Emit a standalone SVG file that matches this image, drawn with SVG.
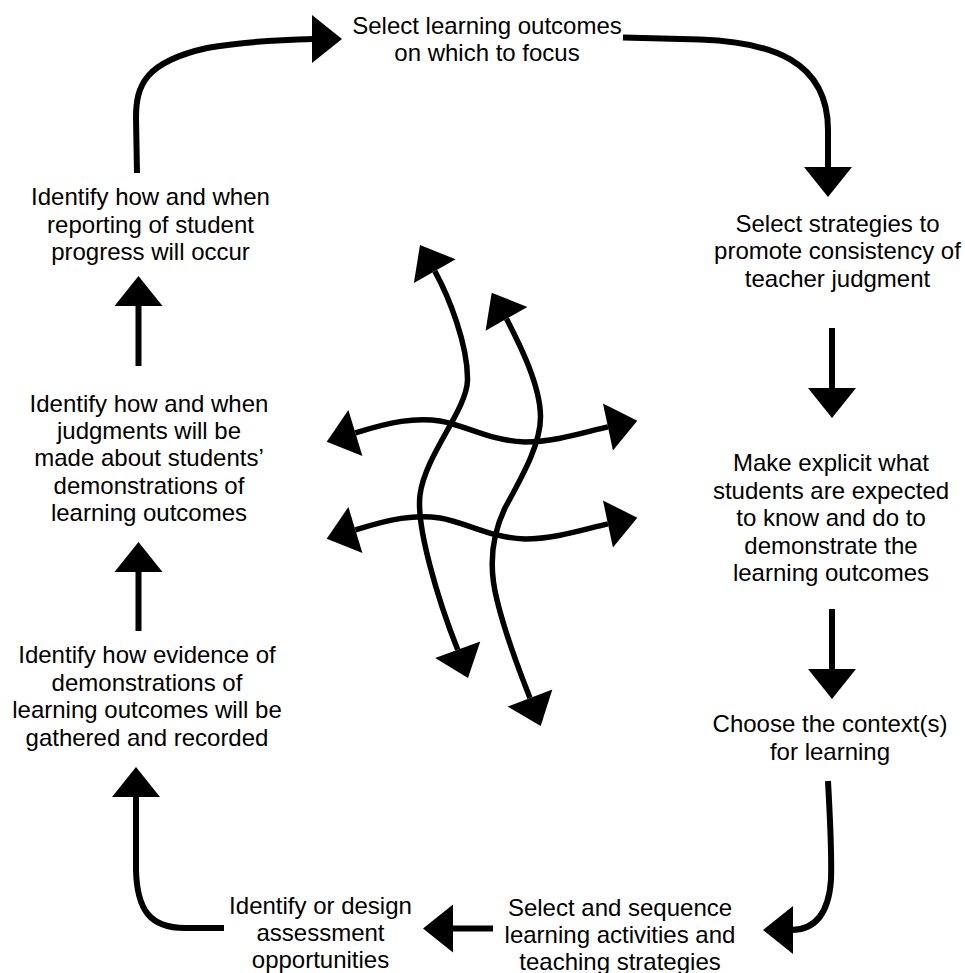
<svg xmlns="http://www.w3.org/2000/svg" xmlns:xlink="http://www.w3.org/1999/xlink" width="965" height="973" viewBox="0 0 965 973">
<style>
  .lbl { font-family: "Liberation Sans", Arial, sans-serif; font-size: 24px; fill: #000; text-anchor: middle; }
  .ln { fill: none; stroke: #000; stroke-width: 6; }
  .cx { fill: none; stroke: #000; stroke-width: 5.5; }
</style>
<defs>
  <polygon id="ah" points="0,0 -30,-24 -30,24" fill="#000"/>
</defs>
<rect width="965" height="973" fill="#fff"/>

<g id="connectors">
  <!-- outer cycle -->
  <path class="ln" d="M137,173 L136,118 C136,85 145,62 207,48 C240,42 275,40 314,39"/>
  <use xlink:href="#ah" href="#ah" transform="translate(342,39)"/>

  <path class="ln" d="M623,37.5 L700,39.5 C770,42 828,60 828,130 L828,169"/>
  <use xlink:href="#ah" href="#ah" transform="translate(828,197) rotate(90)"/>

  <path class="ln" d="M832,328 V390"/>
  <use xlink:href="#ah" href="#ah" transform="translate(832,418) rotate(90)"/>

  <path class="ln" d="M832,609 V671"/>
  <use xlink:href="#ah" href="#ah" transform="translate(832,699) rotate(90)"/>

  <path class="ln" d="M828,781 C830,820 832,850 831,880 C828,922 808,930 791,930"/>
  <use xlink:href="#ah" href="#ah" transform="translate(763,930) rotate(180)"/>

  <path class="ln" d="M493,928.5 H450"/>
  <use xlink:href="#ah" href="#ah" transform="translate(423,928.5) rotate(180)"/>

  <path class="ln" d="M224,928 L185,928 C150,928 137,910 136,870 L136,795"/>
  <use xlink:href="#ah" href="#ah" transform="translate(136,767) rotate(-90)"/>

  <path class="ln" d="M138.5,631 V570"/>
  <use xlink:href="#ah" href="#ah" transform="translate(138.5,542) rotate(-90)"/>

  <path class="ln" d="M138.5,366 V304"/>
  <use xlink:href="#ah" href="#ah" transform="translate(138.5,276) rotate(-90)"/>

  <!-- central interwoven arrows -->
  <path class="cx" d="M434.8,271.1 C449,297 468,345 467.5,380 C467,410 425,455 420,495 C416,527 438,600 457.7,649.8"/>
  <use xlink:href="#ah" href="#ah" transform="translate(420,245) rotate(-119.5)"/>
  <use xlink:href="#ah" href="#ah" transform="translate(468,678) rotate(70)"/>

  <path class="cx" d="M506.5,318.8 C520,345 540,385 540.5,416 C541,445 520,480 505,508 C492,535 488,565 497,600 C503,625 515,660 530,698"/>
  <use xlink:href="#ah" href="#ah" transform="translate(491.7,292.7) rotate(-119.5)"/>
  <use xlink:href="#ah" href="#ah" transform="translate(540.7,726) rotate(69)"/>

  <path class="cx" d="M355.4,432.9 C390,422 415,417 440,421 C465,425 490,441 525,442 C555,442 585,432 608,426.9"/>
  <use xlink:href="#ah" href="#ah" transform="translate(326.7,441.7) rotate(163)"/>
  <use xlink:href="#ah" href="#ah" transform="translate(637.3,420.7) rotate(-12)"/>

  <path class="cx" d="M355.4,529.9 C390,519 415,514 440,518 C465,522 490,538 525,539 C555,539 585,529 608,523.9"/>
  <use xlink:href="#ah" href="#ah" transform="translate(326.7,538.7) rotate(163)"/>
  <use xlink:href="#ah" href="#ah" transform="translate(637.3,517.7) rotate(-12)"/>
</g>

<g id="n1">
  <text class="lbl" x="487" y="33.5">Select learning outcomes</text>
  <text class="lbl" x="487" y="61">on which to focus</text>
</g>
<g id="n2">
  <text class="lbl" x="837.5" y="231.5">Select strategies to</text>
  <text class="lbl" x="837.5" y="259">promote consistency of</text>
  <text class="lbl" x="837.5" y="286.5">teacher judgment</text>
</g>
<g id="n3">
  <text class="lbl" x="831" y="471">Make explicit what</text>
  <text class="lbl" x="831" y="498.5">students are expected</text>
  <text class="lbl" x="831" y="526">to know and do to</text>
  <text class="lbl" x="831" y="553.5">demonstrate the</text>
  <text class="lbl" x="831" y="581">learning outcomes</text>
</g>
<g id="n4">
  <text class="lbl" x="830" y="732">Choose the context(s)</text>
  <text class="lbl" x="830" y="759.5">for learning</text>
</g>
<g id="n5">
  <text class="lbl" x="620" y="916">Select and sequence</text>
  <text class="lbl" x="620" y="943">learning activities and</text>
  <text class="lbl" x="620" y="970">teaching strategies</text>
</g>
<g id="n6">
  <text class="lbl" x="320.5" y="914">Identify or design</text>
  <text class="lbl" x="320.5" y="941">assessment</text>
  <text class="lbl" x="320.5" y="968">opportunities</text>
</g>
<g id="n7">
  <text class="lbl" x="147" y="663">Identify how evidence of</text>
  <text class="lbl" x="147" y="690.5">demonstrations of</text>
  <text class="lbl" x="147" y="718">learning outcomes will be</text>
  <text class="lbl" x="147" y="745.5">gathered and recorded</text>
</g>
<g id="n8">
  <text class="lbl" x="149" y="411.5">Identify how and when</text>
  <text class="lbl" x="149" y="439">judgments will be</text>
  <text class="lbl" x="149" y="466">made about students’</text>
  <text class="lbl" x="149" y="493.5">demonstrations of</text>
  <text class="lbl" x="149" y="520.5">learning outcomes</text>
</g>
<g id="n9">
  <text class="lbl" x="150.5" y="205">Identify how and when</text>
  <text class="lbl" x="150.5" y="232.5">reporting of student</text>
  <text class="lbl" x="150.5" y="260">progress will occur</text>
</g>
</svg>
